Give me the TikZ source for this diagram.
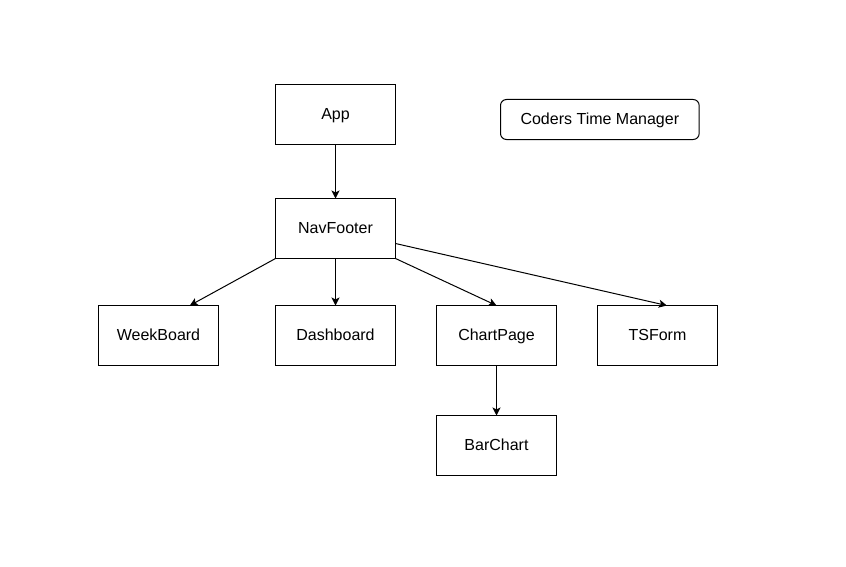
\documentclass[tikz,border=0pt]{standalone}
\usepackage{fontspec}
\setmainfont{Liberation Sans}
\usetikzlibrary{positioning,arrows.meta}

\begin{document}
\begin{tikzpicture}[
    x=0.75pt, y=-0.75pt,
    node distance=36pt,
    comp/.style={rectangle, draw=black, line width=0.75pt, minimum width=90pt, minimum height=45pt, align=center, inner sep=0pt, outer sep=0pt, text height=8.6pt, text depth=1pt, font=\fontsize{12pt}{14pt}\selectfont},
    apptitle/.style={comp, minimum width=149pt, minimum height=30pt, rounded corners=4.5pt},
    arrow/.style={-{Stealth[length=6pt, width=6pt, inset=1.5pt]}, line width=0.75pt, black}
]
\useasboundingbox (0,0) rectangle (846,567);

\node[comp] (app) at (335.5,114.5) {App};
\node[apptitle, right=78.75pt of app, yshift=-3.75pt] (title) {Coders Time Manager};
\node[comp, below=40.5pt of app] (navfooter) {NavFooter};
\node[comp, below=35.25pt of navfooter] (dashboard) {Dashboard};
\node[comp, left=42.75pt of dashboard] (weekboard) {WeekBoard};
\node[comp, right=30.75pt of dashboard] (chartpage) {ChartPage};
\node[comp, right=30.75pt of chartpage] (tsform) {TSForm};
\node[comp, below=37.5pt of chartpage] (barchart) {BarChart};

\draw[arrow] (app) -- (navfooter);
\draw[arrow] (navfooter.south west) -- ([xshift=23.5pt]weekboard.north);
\draw[arrow] (navfooter) -- (dashboard);
\draw[arrow] (navfooter.south east) -- (chartpage.north);
\draw[arrow] ([yshift=-11.25pt]navfooter.east) -- ([xshift=7pt]tsform.north);
\draw[arrow] (chartpage) -- (barchart);
\end{tikzpicture}
\end{document}
